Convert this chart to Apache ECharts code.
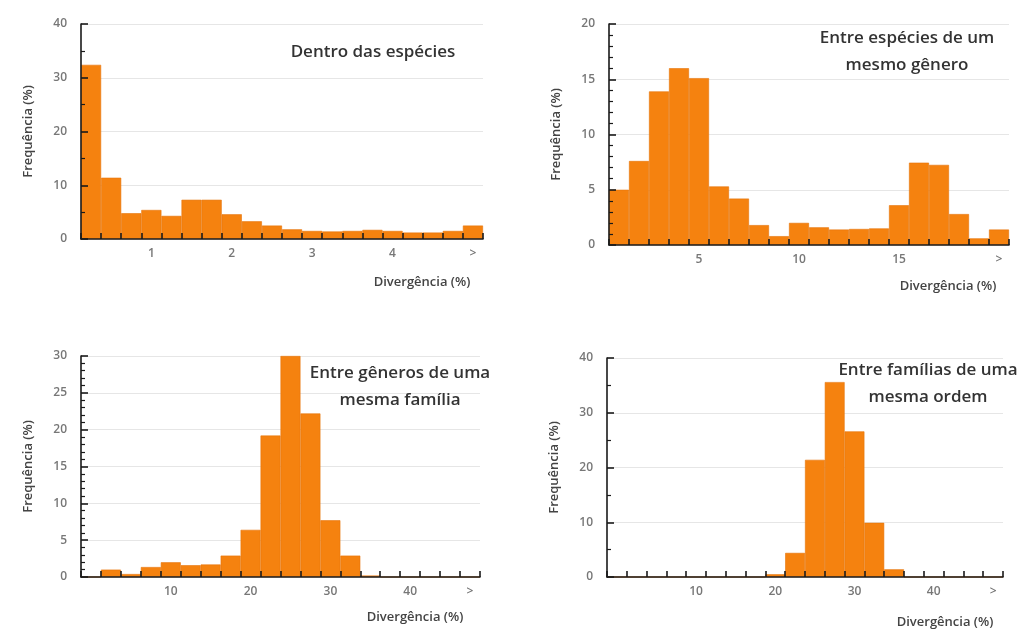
<!DOCTYPE html>
<html><head><meta charset="utf-8">
<script src="https://cdn.jsdelivr.net/npm/echarts@6/dist/echarts.min.js"></script>
<style>html,body{margin:0;padding:0;background:#fff}#c{width:1035px;height:633px}</style>
</head><body><div id="c"></div>
<script>
// Panel A: Dentro das espécies (bins of 0.25 %)
const catsA = ['0.25','0.50','0.75','1.00','1.25','1.50','1.75','2.00','2.25','2.50','2.75','3.00','3.25','3.50','3.75','4.00','4.25','4.50','4.75','>4.75'];
const ticksA = ['','','','1','','','','2','','','','3','','','','4','','','','>'];
const valsA = [32.4,11.4,4.8,5.4,4.3,7.3,7.3,4.6,3.3,2.5,1.8,1.5,1.4,1.5,1.7,1.5,1.2,1.2,1.5,2.5];

// Panel B: Entre espécies de um mesmo gênero (bins of 1 %)
const catsB = ['1','2','3','4','5','6','7','8','9','10','11','12','13','14','15','16','17','18','19','>19'];
const ticksB = ['','','','','5','','','','','10','','','','','15','','','','','>'];
const valsB = [5.0,7.6,13.9,16.0,15.1,5.3,4.2,1.8,0.8,2.0,1.6,1.4,1.45,1.5,3.6,7.45,7.25,2.8,0.6,1.4];

// Panel C: Entre gêneros de uma mesma família (bins of 2.5 %)
const catsC = ['2.5','5','7.5','10','12.5','15','17.5','20','22.5','25','27.5','30','32.5','35','37.5','40','42.5','45','47.5','>47.5'];
const ticksC = ['','','','','10','','','','20','','','','30','','','','40','','','>'];
const valsC = [0,1.0,0.4,1.35,2.0,1.6,1.7,2.9,6.4,19.2,30.0,22.2,7.7,2.9,0.2,0,0,0,0,0];

// Panel D: Entre famílias de uma mesma ordem (bins of 2.5 %)
const catsD = catsC.slice();
const ticksD = ['','','','','10','','','','20','','','','30','','','','40','','','>'];
const valsD = [0,0,0,0,0,0,0,0,0.5,4.4,21.4,35.6,26.6,9.9,1.4,0,0,0,0,0];

// gridline levels per panel (y tick values)
const gridA = [10, 20, 30, 40];
const gridB = [5, 10, 15, 20];
const gridC = [5, 10, 15, 20, 25, 30];
const gridD = [10, 20, 30, 40];

const titles = [['Dentro das espécies'], ['Entre espécies de um','mesmo gênero'], ['Entre gêneros de uma','mesma família'], ['Entre famílias de uma','mesma ordem']];
const yName = 'Frequência (%)';
const xName = 'Divergência (%)';

const panels = [
  {cats: catsA, ticks: ticksA, vals: valsA, gl: gridA, max: 40, interval: 10, minor: 2, grid: {left: 81, top: 24, width: 402, height: 215}, title: {x: 373, y: [52]}, xn: {x: 422, y: 282}},
  {cats: catsB, ticks: ticksB, vals: valsB, gl: gridB, max: 20, interval: 5, minor: 5, grid: {left: 609, top: 24, width: 400, height: 221}, title: {x: 907, y: [38, 65]}, xn: {x: 948, y: 286}},
  {cats: catsC, ticks: ticksC, vals: valsC, gl: gridC, max: 30, interval: 5, minor: 5, grid: {left: 81, top: 356, width: 399, height: 221}, title: {x: 400, y: [373, 400]}, xn: {x: 415, y: 617}},
  {cats: catsD, ticks: ticksD, vals: valsD, gl: gridD, max: 40, interval: 10, minor: 2, grid: {left: 607, top: 358, width: 396, height: 219}, title: {x: 928, y: [370, 397]}, xn: {x: 945, y: 622}}
];

const BAR = '#F5820F';
const FONT = '"Open Sans"';
const grid = [], xAxis = [], yAxis = [], series = [], graphic = [];
panels.forEach((p, i) => {
  grid.push(Object.assign({containLabel: false}, p.grid));
  xAxis.push({
    type: 'category', gridIndex: i, data: p.cats, boundaryGap: true, z: 10,
    axisLine: {lineStyle: {color: '#1a1a1a', width: 1.6}},
    axisTick: {show: true, inside: true, length: 6, interval: 0, lineStyle: {color: '#1a1a1a', width: 1.6}},
    axisLabel: {interval: 0, margin: 9, color: '#777', fontFamily: FONT, fontSize: 12, fontWeight: 600,
      formatter: (v, idx) => p.ticks[idx]},
    splitLine: {show: false}
  });
  yAxis.push({
    type: 'value', gridIndex: i, min: 0, max: p.max, interval: p.interval, z: 10,
    name: yName, nameLocation: 'middle', nameGap: 46, nameRotate: 90,
    nameTextStyle: {color: '#444', fontFamily: FONT, fontSize: 13, fontWeight: 600},
    axisLine: {show: true, lineStyle: {color: '#1a1a1a', width: 1.6}},
    axisTick: {show: true, inside: true, length: 7, lineStyle: {color: '#1a1a1a', width: 1.6}},
    minorTick: {show: true, splitNumber: p.minor, length: 4, lineStyle: {color: '#1a1a1a', width: 1.2}},
    axisLabel: {margin: 14, color: '#777', fontFamily: FONT, fontSize: 12, fontWeight: 600},
    splitLine: {show: false}
  });
  series.push({
    type: 'bar', xAxisIndex: i, yAxisIndex: i, data: p.vals, barCategoryGap: '0%', z: 2,
    itemStyle: {color: BAR, borderColor: '#E6740A', borderWidth: 0.6}, silent: true,
    markLine: {silent: true, z: 1, symbol: 'none', animation: false,
      label: {show: false}, lineStyle: {color: '#e6e6e6', width: 1, type: 'solid'},
      emphasis: {disabled: true},
      data: p.gl.map(v => ({yAxis: v}))}
  });
  p.title.y.forEach((yy, k) => {
    graphic.push({type: 'text', x: p.title.x, y: yy, z: 10,
      style: {text: titles[i][k], fill: '#333', font: '600 17px ' + FONT, textAlign: 'center', textVerticalAlign: 'middle'}});
  });
  graphic.push({type: 'text', x: p.xn.x, y: p.xn.y, z: 10,
    style: {text: xName, fill: '#444', font: '600 13px ' + FONT, textAlign: 'center', textVerticalAlign: 'middle'}});
});

const chart = echarts.init(document.getElementById('c'), null, {renderer: 'canvas'});
chart.setOption({animation: false, backgroundColor: '#fff', grid, xAxis, yAxis, series, graphic});
</script></body></html>
